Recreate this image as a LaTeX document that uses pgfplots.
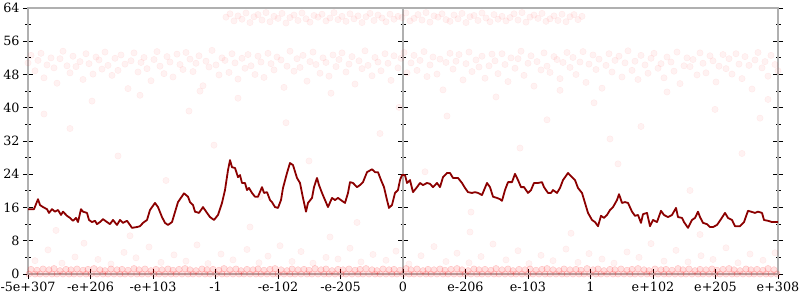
\documentclass[border=0pt]{standalone}
\usepackage{fontspec}
\setmainfont{DejaVu Serif}
\usepackage{pgfplots}
\pgfplotsset{compat=1.18}
\definecolor{axgray}{HTML}{B0B0B0}
\definecolor{linered}{HTML}{8B0000}
\begin{document}
\begin{tikzpicture}[x=1bp,y=1bp]
\path[use as bounding box] (0,0) rectangle (800,300);
% middle vertical axis (at x = 0)
\begin{axis}[at={(28bp,26bp)}, anchor=south west, scale only axis,
  width=750bp, height=266bp, xmin=-375, xmax=375, ymin=0, ymax=64,
  axis x line=none, axis y line=center,
  axis line style={draw=axgray, line width=1.3bp, -},
  ytick={0,8,16,24,32,40,48,56,64}, minor y tick num=1, yticklabels={},
  tick style={black, line width=0.8bp},
  tick align=center, major tick length=10bp, minor tick length=5bp]
\end{axis}
\begin{axis}[at={(28bp,26bp)}, anchor=south west, scale only axis,
  width=750bp, height=266bp, xmin=28, xmax=778, ymin=0, ymax=64, clip=false,
  axis line style={draw=axgray, line width=1.3bp},
  tick style={black, line width=0.8bp},
  tick align=center, major tick length=10bp, minor tick length=5bp,
  xtick={28,90.5,153,215.5,278,340.5,403,465.5,528,590.5,653,715.5,778},
  xticklabels={-5e+307,-e+206,-e+103,-1,-e-102,-e-205,0,e-206,e-103,1,e+102,e+205,e+308},
  xtick pos=left,
  ytick={0,8,16,24,32,40,48,56,64},
  yticklabels={0,8,16,24,32,40,48,56,64},
  ytick pos=both, yticklabel pos=left, minor y tick num=1,
  tick label style={font=\fontsize{12.8}{15}\selectfont},
  scatter/.style={only marks, mark=*, mark size=3.2bp,
     mark options={draw=red, fill=red, draw opacity=0.06, fill opacity=0.05}},
  bandpts/.style={only marks, mark=*, mark size=3.2bp,
     mark options={draw=red, fill=red, draw opacity=0.2, fill opacity=0.12}},
]
% bottom band
\addplot[bandpts] coordinates {
(29,0)(35,0)(40,0)(46,0)(52,0)(57,0)(63,0)(69,0)(74,0)(80,0)(86,0)(91,0)(97,0)(103,0)(108,0)(114,0)(120,0)(125,0)(131,0)(137,0)(142,0)(148,0)(154,0)(159,0)(165,0)(171,0)(176,0)(182,0)(188,0)(193,0)(199,0)(205,0)(210,0)(216,0)(222,0)(227,0)(233,0)(239,0)(244,0)(250,0)(256,0)(261,0)(267,0)(273,0)(278,0)(284,0)(290,0)(295,0)(301,0)(307,0)(312,0)(318,0)(324,0)(329,0)(335,0)(341,0)(346,0)(352,0)(358,0)(363,0)(369,0)(375,0)(380,0)(386,0)(392,0)(397,0)(403,0)(409,0)(414,0)(420,0)(426,0)(431,0)(437,0)(443,0)(448,0)(454,0)(460,0)(465,0)(471,0)(477,0)(482,0)(488,0)(494,0)(499,0)(505,0)(511,0)(516,0)(522,0)(528,0)(533,0)(539,0)(545,0)(550,0)(556,0)(562,0)(567,0)(573,0)(579,0)(584,0)(590,0)(596,0)(601,0)(607,0)(613,0)(618,0)(624,0)(630,0)(635,0)(641,0)(647,0)(652,0)(658,0)(664,0)(669,0)(675,0)(681,0)(686,0)(692,0)(698,0)(703,0)(709,0)(715,0)(720,0)(726,0)(732,0)(737,0)(743,0)(749,0)(754,0)(760,0)(766,0)(771,0)(777,0)
};
\addplot[bandpts] coordinates {
(31,1.1)(37,0.9)(43,1.2)(49,1.0)(54,1.3)(60,0.8)(66,1.1)(71,1.0)(77,1.2)(83,0.9)(88,1.1)(94,1.3)(100,1.0)(105,0.8)(111,1.2)(117,1.0)(122,1.1)(128,0.9)(134,1.3)(139,1.0)(145,1.2)(151,0.8)(156,1.1)(162,1.0)(168,1.2)(173,0.9)(179,1.1)(185,1.3)(190,1.0)(196,0.8)(202,1.2)(207,1.0)(213,1.1)(219,0.9)(224,1.3)(230,1.0)(236,1.2)(241,0.8)(247,1.1)(253,1.0)(258,1.2)(264,0.9)(270,1.1)(275,1.3)(281,1.0)(287,0.8)(292,1.2)(298,1.0)(304,1.1)(309,0.9)(315,1.3)(321,1.0)(326,1.2)(332,0.8)(338,1.1)(343,1.0)(349,1.2)(355,0.9)(360,1.1)(366,1.3)(372,1.0)(377,0.8)(383,1.2)(389,1.0)(394,1.1)(400,0.9)(406,1.3)(411,1.0)(417,1.2)(423,0.8)(428,1.1)(434,1.0)(440,1.2)(445,0.9)(451,1.1)(457,1.3)(462,1.0)(468,0.8)(474,1.2)(479,1.0)(485,1.1)(491,0.9)(496,1.3)(502,1.0)(508,1.2)(513,0.8)(519,1.1)(525,1.0)(530,1.2)(536,0.9)(542,1.1)(547,1.3)(553,1.0)(559,0.8)(564,1.2)(570,1.0)(576,1.1)(581,0.9)(587,1.3)(593,1.0)(598,1.2)(604,0.8)(610,1.1)(615,1.0)(621,1.2)(627,0.9)(632,1.1)(638,1.3)(644,1.0)(649,0.8)(655,1.2)(661,1.0)(666,1.1)(672,0.9)(678,1.3)(683,1.0)(689,1.2)(695,0.8)(700,1.1)(706,1.0)(712,1.2)(717,0.9)(723,1.1)(729,1.3)(734,1.0)(740,0.8)(746,1.2)(751,1.0)(757,1.1)(763,0.9)(768,1.3)(774,1.0)
};
% low sparse points
\addplot[scatter] coordinates {
(35,3.2)(48,5.8)(62,2.6)(75,4.1)(84,7.4)(98,3.5)(111,2.4)(124,5.2)(136,3.9)(149,6.5)(161,2.8)(174,4.6)(186,3.1)(197,7.0)(208,2.5)(221,4.8)(233,3.4)(247,5.9)(259,2.7)(268,4.3)(280,6.8)(292,3.0)(301,5.4)(313,2.6)(326,4.0)(338,3.6)(350,6.2)(361,2.9)(373,4.7)(386,3.3)(396,5.5)(409,2.4)(421,4.4)(434,6.6)(446,3.0)(457,5.0)(469,2.7)(481,4.2)(493,7.2)(506,3.4)(518,5.6)(529,2.5)(541,4.5)(553,3.2)(566,6.0)(578,2.8)(589,4.9)(602,3.6)(614,2.6)(627,5.3)(639,4.0)(651,7.3)(664,3.1)(676,5.7)(688,2.9)(701,4.4)(713,3.5)(726,6.3)(738,2.7)(750,4.8)(763,3.3)(775,5.1)
};
% mid sparse points
\addplot[scatter] coordinates {
(44,38.5)(70,35.0)(92,41.6)(118,28.4)(140,43.0)(166,22.5)(189,39.2)(214,31.0)(238,42.3)(260,18.6)(286,36.4)(309,27.2)(331,43.5)(357,12.4)(380,33.8)(399,40.1)(425,24.6)(447,38.0)(471,14.9)(496,42.6)(520,30.3)(547,37.1)(571,9.8)(594,41.2)(618,26.5)(641,35.5)(667,43.8)(690,20.1)(715,39.6)(742,29.0)(768,42.0)(56,10.5)(130,9.2)(250,11.3)(470,10.1)(700,9.5)(610,32.5)(200,44.0)(330,8.9)(560,44.2)(760,37.5)
};
% main band 44-54
\addplot[scatter] coordinates {
(28,50.8)(31,52.6)(35,48.9)(38,51.4)(41,53.1)(44,47.2)(47,50.3)(51,52.0)(54,49.6)(57,45.9)(60,51.8)(63,53.6)(67,50.1)(70,48.4)(73,52.4)(76,49.9)(80,51.1)(83,46.8)(86,53.0)(89,50.6)(93,48.1)(96,52.2)(99,51.5)(102,49.3)
(105,53.4)(108,50.2)(112,47.8)(115,51.9)(118,49.0)(121,52.7)(125,50.5)(128,44.6)(131,51.3)(134,53.2)(138,48.6)(141,50.9)(144,52.1)(147,49.4)(151,46.5)(154,51.6)(157,53.5)(160,50.0)(164,48.2)(167,52.3)(170,51.0)(173,47.4)(177,52.9)(180,50.4)
(183,49.2)(186,53.3)(190,51.7)(193,48.7)(196,50.7)(199,52.5)(203,45.3)(206,51.2)(209,49.8)(212,53.8)(216,50.3)(219,47.9)(222,52.0)(225,51.4)(229,48.5)(232,53.0)(235,50.8)(238,46.9)(242,51.9)(245,49.5)(248,52.8)(251,50.1)(255,48.0)(258,52.4)
(261,51.0)(264,47.3)(268,53.1)(271,50.6)(274,49.1)(277,52.2)(281,51.5)(284,44.9)(287,50.0)(290,53.6)(294,48.8)(297,51.8)(300,49.7)(303,52.6)(307,46.4)(310,51.1)(313,53.4)(316,50.4)(320,48.3)(323,52.0)(326,50.9)(329,47.6)(333,52.7)(336,49.9)
(339,51.6)(342,53.2)(346,48.6)(349,50.5)(352,52.3)(355,45.7)(359,51.3)(362,49.4)(365,53.7)(368,50.2)(372,47.7)(375,52.1)(378,51.0)(381,48.9)(385,53.0)(388,50.7)(391,46.6)(394,52.5)(398,49.6)(401,51.9)(404,53.3)(407,48.4)(411,50.8)(414,52.6)
(417,49.0)(420,51.4)(424,53.5)(427,47.5)(430,50.3)(433,52.2)(437,48.1)(440,51.7)(443,44.3)(446,50.9)(450,53.1)(453,49.3)(456,51.2)(459,52.8)(463,46.7)(466,50.6)(469,53.4)(472,48.7)(476,51.5)(479,49.8)(482,52.4)(485,47.1)(489,50.1)(492,52.9)
(495,51.3)(498,48.2)(502,53.0)(505,50.4)(508,46.3)(511,52.0)(515,49.5)(518,51.8)(521,53.6)(524,47.8)(528,50.7)(531,52.5)(534,45.2)(537,51.1)(541,49.1)(544,53.2)(547,50.0)(550,48.5)(554,52.3)(557,51.6)(560,47.0)(563,50.9)(567,53.3)(570,49.7)
(573,52.1)(576,48.0)(580,51.0)(583,53.5)(586,46.1)(589,50.5)(593,52.7)(596,49.2)(599,51.7)(602,44.7)(606,50.2)(609,53.0)(612,48.6)(615,51.4)(619,52.4)(622,47.4)(625,50.8)(628,53.7)(632,49.0)(635,51.2)(638,46.8)(641,52.6)(645,50.3)(648,48.3)
(651,51.9)(654,53.1)(658,49.5)(661,50.6)(664,47.2)(667,52.2)(671,51.0)(674,48.8)(677,53.4)(680,45.8)(684,50.1)(687,52.0)(690,49.9)(693,51.6)(697,47.9)(700,53.2)(703,50.7)(706,48.4)(710,52.5)(713,51.3)(716,46.2)(719,50.0)(723,52.8)(726,49.4)
(729,51.8)(732,48.1)(736,53.0)(739,50.5)(742,47.0)(745,52.3)(749,50.2)(752,44.5)(755,51.5)(758,53.3)(762,49.6)(765,51.1)(768,47.6)(771,52.6)(775,50.4)(778,48.9)
};
% top band 60-63
\addplot[scatter] coordinates {
(226,61.8)(230,62.6)(234,60.9)(238,62.1)(242,61.3)(246,62.8)(250,60.5)(254,61.9)(258,62.4)(262,61.1)(266,62.9)(270,60.7)(274,62.0)(278,61.5)(282,62.7)(286,60.4)(290,61.7)(294,62.3)(298,61.0)(302,62.8)(306,61.4)(310,60.6)(314,62.2)(318,61.8)(322,62.5)(326,60.9)(330,61.6)(334,62.9)(338,61.2)(342,62.0)(346,60.8)(350,62.6)(354,61.4)(358,62.1)(362,60.5)(366,61.9)(370,62.7)(374,61.0)(378,62.3)(382,61.6)(386,60.7)(390,62.5)(394,61.3)(398,62.0)(402,61.7)
(406,62.8)(410,60.9)(414,61.5)(418,62.4)(422,61.1)(426,62.9)(430,60.6)(434,62.1)(438,61.8)(442,62.6)(446,61.2)(450,60.8)(454,62.3)(458,61.4)(462,62.7)(466,60.5)(470,61.9)(474,62.2)(478,61.0)(482,62.8)(486,61.6)(490,60.7)(494,62.4)(498,61.3)(502,62.0)(506,60.9)(510,61.7)(514,62.6)(518,61.1)(522,62.9)(526,60.6)(530,61.8)(534,62.3)(538,61.5)(542,62.7)(546,60.8)(550,61.4)(554,62.1)(558,61.0)(562,62.5)(566,60.7)(570,61.9)(574,62.4)(578,61.2)(582,62.0)
};
% main line
\addplot[linered, line width=1.8bp, mark=none, line join=round] coordinates {
(28,15.6)(34,15.6)(38,18.0)(40,16.6)(43,16.1)(47,15.6)(49,14.7)(52,15.6)(55,15.0)(58,15.4)(61,14.2)(63,15.0)(67,14.0)(70,13.5)(73,12.8)(76,13.5)(78,12.5)(81,15.6)(83,15.0)(87,14.7)(89,13.0)(92,12.5)(95,12.8)(97,12.0)(100,12.5)(103,13.2)(107,12.5)(110,12.0)(113,13.0)(117,11.8)(120,13.0)(123,12.3)(127,12.8)(130,11.8)(132,11.1)(137,11.3)(140,11.5)(143,12.3)(147,13.0)(150,15.4)(155,17.1)(158,16.1)(162,13.7)(165,12.3)(168,11.8)(172,12.5)(175,14.9)(178,17.3)
(184,19.4)(188,18.6)(190,17.3)(193,16.6)(195,15.0)(199,14.7)(203,16.1)(207,14.7)(210,13.7)(214,13.0)(218,14.2)(222,17.1)(225,20.2)(228,25.0)(230,27.4)(232,25.7)(235,25.5)(238,23.3)(240,23.8)(242,21.9)(245,21.9)(247,20.2)(249,20.7)(252,19.5)(255,18.6)(258,18.6)(262,20.9)(264,19.5)(267,19.7)(270,17.8)(272,17.3)(275,16.1)(278,15.9)(281,17.8)(283,20.7)(287,24.3)(290,26.7)(293,26.2)(297,23.1)(300,21.9)(303,18.3)(306,15.0)(308,17.1)(312,18.3)(314,20.9)(317,23.1)(319,21.4)(322,19.5)(325,17.8)
(328,16.1)(332,18.3)(335,17.8)(338,18.3)(342,17.6)(345,17.1)(348,19.5)(350,22.1)(353,21.9)(357,20.9)(360,21.4)(363,22.1)(367,24.5)(372,25.2)(375,24.5)(378,24.5)(381,22.6)(384,20.9)(387,17.8)(389,15.9)(392,16.6)(395,19.5)(398,20.2)(400,22.6)(402,23.8)(405,23.8)(407,21.9)(410,22.6)(413,19.7)(417,20.9)(420,21.9)(423,21.4)(427,21.9)(430,21.7)(433,20.9)(437,21.9)(440,20.9)(443,23.3)(447,24.3)(450,24.3)(453,23.1)(458,23.1)(462,21.9)(465,20.7)(468,19.7)(472,19.5)(475,19.7)(478,19.5)
(482,19.0)(487,21.9)(490,20.9)(493,18.6)(497,18.3)(500,18.0)(502,17.6)(505,20.2)(508,22.1)(512,22.1)(515,24.1)(518,22.6)(521,20.9)(524,20.9)(528,19.5)(531,20.2)(534,21.9)(538,21.9)(542,22.1)(544,20.9)(548,19.5)(551,19.5)(553,20.2)(557,19.5)(560,20.7)(563,22.6)(568,24.3)(572,23.3)(575,22.6)(578,20.7)(582,19.5)(585,17.1)(588,14.7)(592,13.0)(595,12.5)(598,11.5)(601,14.0)(604,13.5)(607,14.2)(610,15.4)(613,16.1)(617,17.8)(619,19.2)(622,17.1)(625,17.3)
(628,17.1)(632,15.0)(635,14.0)(638,14.2)(641,12.3)(643,14.4)(647,14.7)(650,11.5)(653,13.0)(657,12.5)(661,15.2)(664,14.2)(668,13.7)(672,14.2)(676,15.9)(678,13.7)(682,13.5)(684,12.5)(688,11.1)(692,13.0)(695,13.5)(698,15.0)(700,13.7)(703,12.3)(707,12.0)(710,11.3)(713,11.3)(717,11.8)(721,13.2)(725,14.7)(728,13.5)(732,13.0)(735,11.5)(740,11.5)(744,12.5)(748,15.2)(751,15.0)(755,14.7)(758,15.0)(762,14.7)(764,13.0)(768,12.8)(772,12.5)(778,12.5)
};
\end{axis}
\end{tikzpicture}
\end{document}
